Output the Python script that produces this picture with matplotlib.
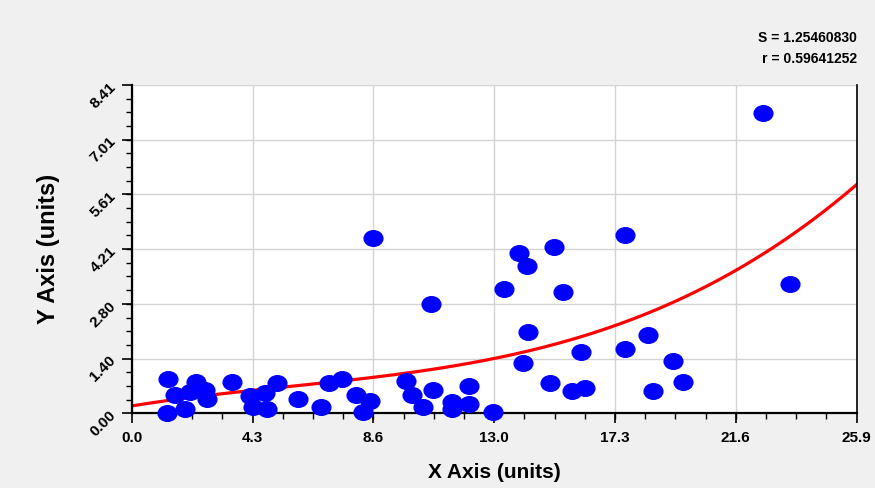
import numpy as np
import matplotlib.pyplot as plt
from matplotlib.path import Path
from matplotlib.ticker import FixedLocator, AutoMinorLocator

# data
x_vals = [1.31, 1.25, 1.55, 1.90, 2.28, 2.08, 2.62, 2.69, 3.57, 4.23,
          4.34, 4.76, 5.18, 4.85, 5.95, 6.75, 7.04, 7.51, 8.01, 8.27,
          8.50, 8.61, 9.81, 10.02, 10.40, 10.78, 10.68, 11.43, 11.43, 12.04,
          12.04, 12.92, 13.29, 13.84, 14.11, 13.99, 14.17, 14.94, 15.09, 15.41,
          15.73, 16.20, 16.05, 17.62, 17.62, 18.46, 18.64, 19.33, 19.71, 22.54,
          23.52]
y_vals = [0.87, 0.01, 0.46, 0.10, 0.80, 0.55, 0.61, 0.36, 0.80, 0.44,
          0.17, 0.53, 0.78, 0.10, 0.37, 0.17, 0.77, 0.87, 0.46, 0.04,
          0.31, 4.48, 0.83, 0.47, 0.17, 0.60, 2.81, 0.30, 0.10, 0.71,
          0.23, 0.03, 3.18, 4.11, 3.77, 1.30, 2.07, 0.77, 4.25, 3.11,
          0.56, 0.64, 1.57, 4.57, 1.66, 2.01, 0.57, 1.33, 0.80, 7.68,
          3.30]

# fitted curve as read at the major x ticks
curve_x = [0.0, 4.317, 8.633, 12.95, 17.267, 21.583, 25.9]
curve_y = [0.21, 0.53, 0.97, 1.40, 2.26, 3.63, 5.87]

x_ticks = [0.0, 4.317, 8.633, 12.95, 17.267, 21.583, 25.9]
x_labels = ["0.0", "4.3", "8.6", "13.0", "17.3", "21.6", "25.9"]
y_ticks = [0.0, 1.4017, 2.8033, 4.205, 5.6067, 7.0083, 8.41]
y_labels = ["0.00", "1.40", "2.80", "4.21", "5.61", "7.01", "8.41"]

s_text = "S = 1.25460830"
r_text = "r = 0.59641252"

plt.rcParams['font.family'] = ['Liberation Sans Narrow', 'Liberation Sans', 'DejaVu Sans']

fig = plt.figure(figsize=(8.75, 4.88), dpi=100, facecolor="#f0f0f0")
ax = fig.add_axes([0.1505, 0.153, 0.8285, 0.673])
ax.set_facecolor("white")

# ellipse marker
circ = Path.unit_circle()
ell = Path(circ.vertices * np.array([1.2, 1.0]), circ.codes)

coef = np.polyfit(curve_x, curve_y, 3)
xx = np.linspace(0, 25.9, 300)
ax.plot(xx, np.polyval(coef, xx), color="red", lw=2.3, zorder=2)

ax.plot(x_vals, y_vals, ls="none", marker=ell, ms=13.5, color="#0000ff",
        mec="#0000ff", zorder=3, clip_on=False)

ax.set_xlim(0, 25.9)
ax.set_ylim(0, 8.41)
ax.xaxis.set_major_locator(FixedLocator(x_ticks))
ax.yaxis.set_major_locator(FixedLocator(y_ticks))
ax.xaxis.set_minor_locator(AutoMinorLocator(4))
ax.yaxis.set_minor_locator(AutoMinorLocator(4))
ax.set_xticklabels(x_labels, fontsize=11, fontweight="bold")
ax.set_yticklabels(y_labels, fontsize=11, fontweight="bold", rotation=45,
                   ha="right", va="center", rotation_mode="anchor")
ax.tick_params(which="major", length=7, width=1.2, direction="out", color="black")
ax.tick_params(which="minor", length=4.5, width=1.0, direction="out", color="black")
ax.tick_params(axis="x", pad=6)
ax.tick_params(axis="y", pad=6)

ax.grid(True, which="major", color="#d4d4d4", lw=1.0, zorder=0)
ax.set_axisbelow(True)

for side in ["left", "bottom"]:
    ax.spines[side].set_linewidth(1.6)
    ax.spines[side].set_color("black")
ax.spines["right"].set_linewidth(1.2)
ax.spines["top"].set_visible(False)

ax.set_xlabel("X Axis (units)", fontsize=15, fontweight="bold", labelpad=13)
ax.set_ylabel("Y Axis (units)", fontsize=17, fontweight="bold", labelpad=20,
              family=["Liberation Sans", "DejaVu Sans"])

fig.text(0.979, 0.922, s_text, ha="right", va="center", fontsize=10, fontweight="bold")
fig.text(0.979, 0.880, r_text, ha="right", va="center", fontsize=10, fontweight="bold")

fig.savefig("out.png", dpi=100, facecolor=fig.get_facecolor())
